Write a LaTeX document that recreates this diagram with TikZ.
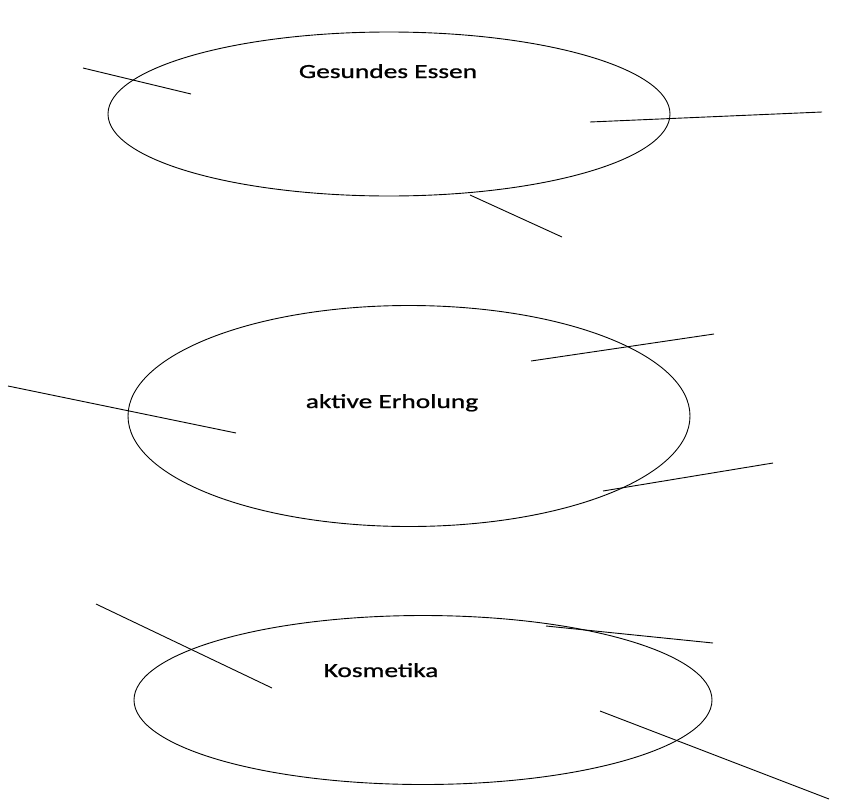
\documentclass[tikz,border=0pt]{standalone}
\usepackage{fontspec}
\setmainfont{Carlito}
\newfontfamily\labelfont[FakeStretch=1.37,FakeBold=1]{Carlito}
\usetikzlibrary{shapes.geometric}

\begin{document}
\begin{tikzpicture}[x=1pt,y=-1pt,line width=0.9pt]
        \useasboundingbox (0,0) rectangle (850,811);
        \tikzset{oval/.style={draw, ellipse, inner sep=0pt},
                 word/.style={anchor=base, inner sep=0pt, font=\labelfont\fontsize{20}{24}\selectfont}}

        % Gesundes Essen
        \node[oval, minimum width=562, minimum height=164] (E1) at (389,114) {};
        \node[word] (T1) at (388,78) {Gesundes Essen};
        \coordinate (a1) at (83,68);   \coordinate (b1) at (191,94);
        \coordinate (a2) at (590,122); \coordinate (b2) at (822,112);
        \coordinate (a3) at (470,195); \coordinate (b3) at (562,237);
        \draw (a1) -- (b1);
        \draw (a2) -- (b2);
        \draw (a3) -- (b3);

        % aktive Erholung
        \node[oval, minimum width=562, minimum height=221] (E2) at (409,416) {};
        \node[word] (T2) at (392,408) {aktive Erholung};
        \coordinate (c1) at (531,361); \coordinate (d1) at (714,334);
        \coordinate (c2) at (8,386);   \coordinate (d2) at (236,433);
        \coordinate (c3) at (603,491); \coordinate (d3) at (773,463);
        \draw (c1) -- (d1);
        \draw (c2) -- (d2);
        \draw (c3) -- (d3);

        % Kosmetika
        \node[oval, minimum width=578, minimum height=169] (E3) at (423,700) {};
        \node[word] (T3) at (381,677) {Kosmetika};
        \coordinate (e1) at (96,604);  \coordinate (f1) at (272,688);
        \coordinate (e2) at (546,626); \coordinate (f2) at (713,643);
        \coordinate (e3) at (600,711); \coordinate (f3) at (829,799);
        \draw (e1) -- (f1);
        \draw (e2) -- (f2);
        \draw (e3) -- (f3);
    \end{tikzpicture}
\end{document}
